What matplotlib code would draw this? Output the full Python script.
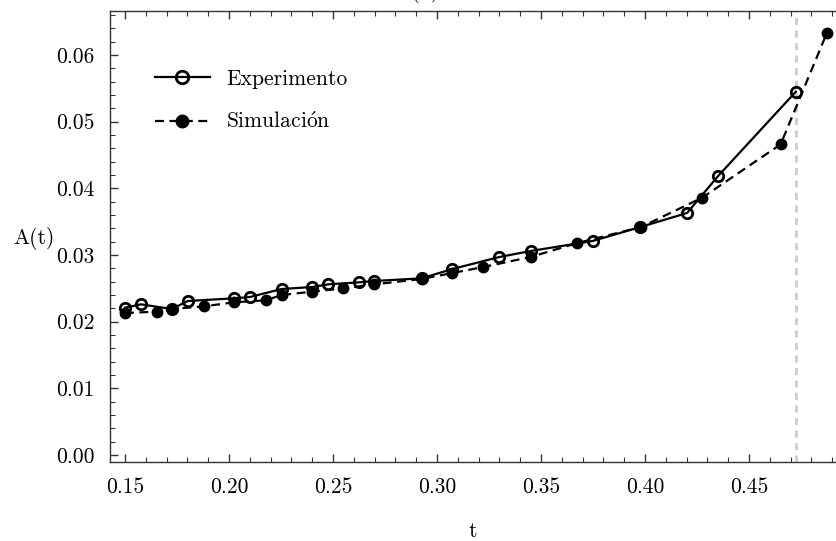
import matplotlib
matplotlib.use("Agg")
import matplotlib.pyplot as plt
from matplotlib.ticker import MultipleLocator, FormatStrFormatter

plt.rcParams['font.family'] = ['cmr10', 'DejaVu Serif']
plt.rcParams['mathtext.fontset'] = 'cm'
plt.rcParams['axes.unicode_minus'] = False

# Experimental series
t_exp = [0.150, 0.1577, 0.1725, 0.1802, 0.2024, 0.2101, 0.2253, 0.2400, 0.2477,
         0.2625, 0.2699, 0.2926, 0.3074, 0.3300, 0.3450, 0.3748, 0.3978, 0.4202,
         0.4350, 0.4725]
a_exp = [0.0221, 0.0226, 0.0219, 0.0231, 0.0235, 0.0237, 0.0249, 0.0252, 0.0256,
         0.0259, 0.0261, 0.0265, 0.0279, 0.0297, 0.0306, 0.0321, 0.0342, 0.0363,
         0.0418, 0.0545]

# Simulated series
t_sim = [0.150, 0.1652, 0.1725, 0.1880, 0.2024, 0.2176, 0.2253, 0.2400, 0.2550,
         0.2699, 0.2926, 0.3074, 0.3223, 0.3450, 0.3675, 0.3981, 0.4275, 0.4652,
         0.4874]
a_sim = [0.0213, 0.0215, 0.0219, 0.0223, 0.0229, 0.0232, 0.0240, 0.0245, 0.0250,
         0.0256, 0.0264, 0.0273, 0.0282, 0.0297, 0.0318, 0.0342, 0.0386, 0.0466,
         0.0633]

t_critical = 0.4725

fig = plt.figure(figsize=(8.36, 5.41), dpi=100)
ax = fig.add_axes([110 / 836, 1 - 462 / 541, 1 - 110 / 836, (462 - 11) / 541])

ax.axvline(t_critical, color='#cccccc', lw=2.0, ls=(0, (2.5, 2.0)), zorder=1)

ax.plot(t_sim, a_sim, color='black', lw=1.6, ls=(0, (4, 2.5)), marker='o',
        ms=7.5, mfc='black', mec='black', label=r'$\mathrm{Simulaci\acute{o}n}$',
        zorder=3)
ax.plot(t_exp, a_exp, color='black', lw=1.6, ls='-', marker='o',
        ms=7.5, mfc='none', mec='black', mew=2.0, label='Experimento', zorder=4)

ax.set_xlim(0.1428, 0.4918)
ax.set_ylim(-0.00105, 0.0666)

ax.xaxis.set_major_locator(MultipleLocator(0.05))
ax.xaxis.set_minor_locator(MultipleLocator(0.01))
ax.yaxis.set_major_locator(MultipleLocator(0.01))
ax.yaxis.set_minor_locator(MultipleLocator(0.002))
ax.xaxis.set_major_formatter(FormatStrFormatter('%.2f'))
ax.yaxis.set_major_formatter(FormatStrFormatter('%.2f'))

ax.spines['right'].set_visible(False)
for s in ('left', 'bottom', 'top'):
    ax.spines[s].set_linewidth(1.0)
    ax.spines[s].set_color('#333333')

ax.tick_params(axis='x', which='both', direction='in', top=True, bottom=True,
               labelsize=15.5, pad=11, colors='#333333', labelcolor='black')
ax.tick_params(axis='y', which='both', direction='in', left=True, right=False,
               labelsize=15.5, pad=11, colors='#333333', labelcolor='black')
ax.tick_params(which='major', length=6, width=1.0)
ax.tick_params(which='minor', length=3.5, width=0.8)

ax.set_xlabel('t', fontsize=15.5, labelpad=18)
ax.set_ylabel('A(t)', fontsize=15.5, rotation=0, labelpad=0)
ax.yaxis.set_label_coords(-0.105, 0.47)

handles, labels = ax.get_legend_handles_labels()
leg = ax.legend(handles[::-1], labels[::-1], loc='upper left',
                bbox_to_anchor=(0.05, 0.89), frameon=False, fontsize=15.5,
                handlelength=2.55, handletextpad=0.75, labelspacing=1.05,
                borderaxespad=0.0, markerscale=1.2)

fig.text(426 / 836, 1.005, '(b)', ha='center', va='baseline', fontsize=16)

fig.savefig('out.png', dpi=100)
